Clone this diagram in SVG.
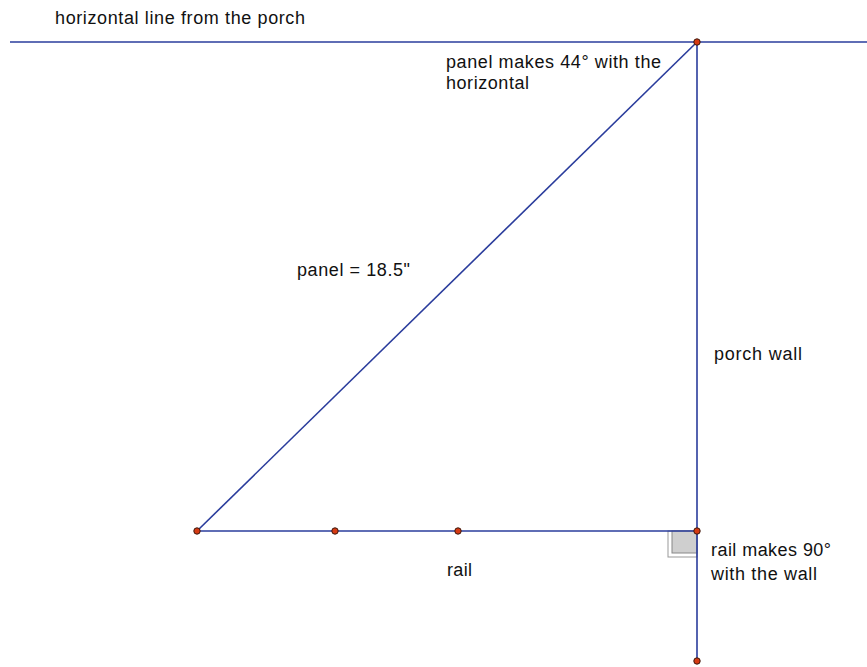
<svg xmlns="http://www.w3.org/2000/svg" width="867" height="667" viewBox="0 0 867 667">
<style>
.ln{stroke:#2a3c9c;stroke-width:1.6;fill:none}
.pt{fill:#d63a12;stroke:#3a1a10;stroke-width:1}
text{font-family:"Liberation Sans",Arial,sans-serif;font-size:18px;fill:#111}
</style>
<rect width="867" height="667" fill="#fff"/>
<g id="rightangle">
<rect x="668" y="531" width="29" height="26" fill="#fff" stroke="#999" stroke-width="1"/>
<rect x="672" y="531" width="25" height="22" fill="#cfcfcf" stroke="#888" stroke-width="1"/>
</g>
<g id="connectors">
<line class="ln" x1="10" y1="42" x2="867" y2="42"/>
<line class="ln" x1="697" y1="42" x2="697" y2="661"/>
<line class="ln" x1="197" y1="531" x2="697" y2="42"/>
<line class="ln" x1="197" y1="531" x2="697" y2="531"/>
</g>
<g id="points">
<circle class="pt" cx="697" cy="42" r="3.2"/>
<circle class="pt" cx="197" cy="531" r="3.2"/>
<circle class="pt" cx="335" cy="531" r="3.2"/>
<circle class="pt" cx="458" cy="531" r="3.2"/>
<circle class="pt" cx="697" cy="531" r="3.2"/>
<circle class="pt" cx="697" cy="661" r="3.2"/>
</g>
<g id="labels">
<text x="55" y="24" textLength="250" lengthAdjust="spacing">horizontal line from the porch</text>
<text x="446" y="68" textLength="215" lengthAdjust="spacing">panel makes 44° with the</text>
<text x="446" y="89" textLength="83" lengthAdjust="spacing">horizontal</text>
<text x="297" y="276" textLength="113" lengthAdjust="spacing">panel = 18.5"</text>
<text x="714" y="360" textLength="88" lengthAdjust="spacing">porch wall</text>
<text x="447" y="576" textLength="25" lengthAdjust="spacing">rail</text>
<text x="711" y="556" textLength="120" lengthAdjust="spacing">rail makes 90°</text>
<text x="711" y="580" textLength="106" lengthAdjust="spacing">with the wall</text>
</g>
</svg>
